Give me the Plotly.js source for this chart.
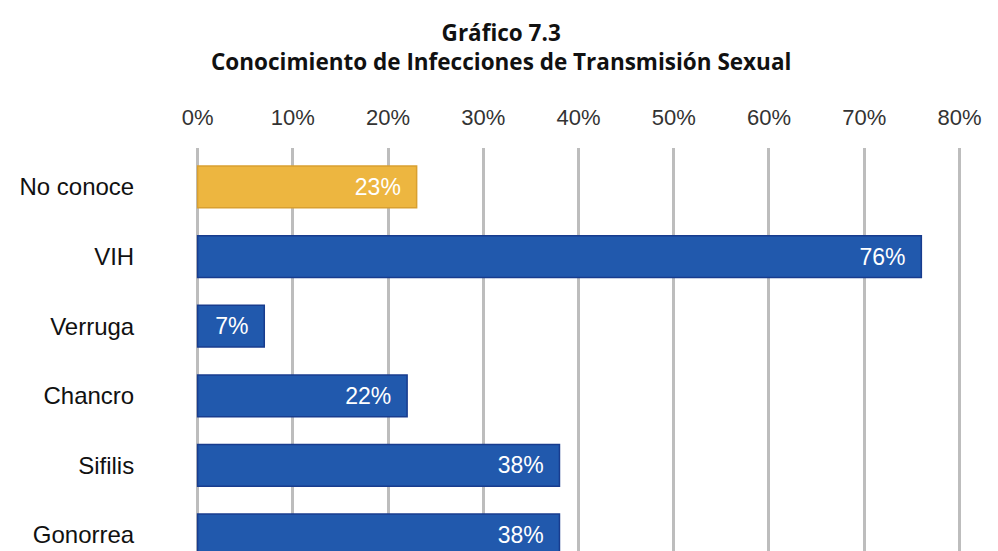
<!DOCTYPE html>
<html>
<head>
<meta charset="utf-8">
<script src="https://cdn.plot.ly/plotly-3.0.1.min.js"></script>
<style>html,body{margin:0;padding:0;background:#fff;}#chart{width:998px;height:551px;}</style>
</head>
<body>
<div id="chart"></div>
<script>
var categories = ["No conoce", "VIH", "Verruga", "Chancro", "Sifilis", "Gonorrea"];
var values = [23, 76, 7, 22, 38, 38];
var barColors = ["#EDB640", "#2159AD", "#2159AD", "#2159AD", "#2159AD", "#2159AD"];
var lineColors = ["#D9A030", "#183C8E", "#183C8E", "#183C8E", "#183C8E", "#183C8E"];
var tickVals = [0, 10, 20, 30, 40, 50, 60, 70, 80];
var tickText = ["0%", "10%", "20%", "30%", "40%", "50%", "60%", "70%", "80%"];
var titleLines = ["Gráfico 7.3", "Conocimiento de Infecciones de Transmisión Sexual"];

var trace = {
  type: "bar",
  orientation: "h",
  y: categories,
  x: values,
  width: 0.6,
  marker: {color: barColors, line: {color: lineColors, width: 1.5}},
  text: values.map(function(v){return v + "%  ";}),
  textposition: "inside",
  insidetextanchor: "end",
  constraintext: "none",
  textfont: {family: "Liberation Sans, Arial, sans-serif", size: 23, color: "#ffffff"},
  hoverinfo: "none"
};

var titleFont = {family: "Open Sans, sans-serif", size: 22.5, color: "#111111", weight: 700};

var layout = {
  width: 998,
  height: 551,
  paper_bgcolor: "#ffffff",
  plot_bgcolor: "#ffffff",
  margin: {l: 150, r: 30, t: 148, b: 0},
  showlegend: false,
  annotations: [
    {text: "<b>" + titleLines[0] + "<br>" + titleLines[1] + "</b>", xref: "paper", yref: "paper",
     x: 0.4295, y: 1.25, xanchor: "center", yanchor: "middle", align: "center",
     showarrow: false, font: titleFont}
  ],
  bargap: 0.4,
  xaxis: {
    side: "top",
    range: [-5, 80.9],
    tickvals: tickVals,
    ticktext: tickText,
    ticks: "outside",
    ticklen: 13,
    tickcolor: "rgba(0,0,0,0)",
    tickfont: {family: "Liberation Sans, Arial, sans-serif", size: 22, color: "#333333"},
    showgrid: true,
    gridcolor: "#BDBDBD",
    gridwidth: 3,
    zeroline: false,
    showline: false,
    fixedrange: true
  },
  yaxis: {
    type: "category",
    range: [5.23, -0.56],
    ticks: "outside",
    ticklen: 10,
    tickcolor: "rgba(0,0,0,0)",
    tickfont: {family: "Liberation Sans, Arial, sans-serif", size: 24, color: "#111111"},
    showgrid: false,
    zeroline: false,
    showline: false,
    fixedrange: true
  }
};

Plotly.newPlot("chart", [trace], layout, {displayModeBar: false, staticPlot: true});
</script>
</body>
</html>
